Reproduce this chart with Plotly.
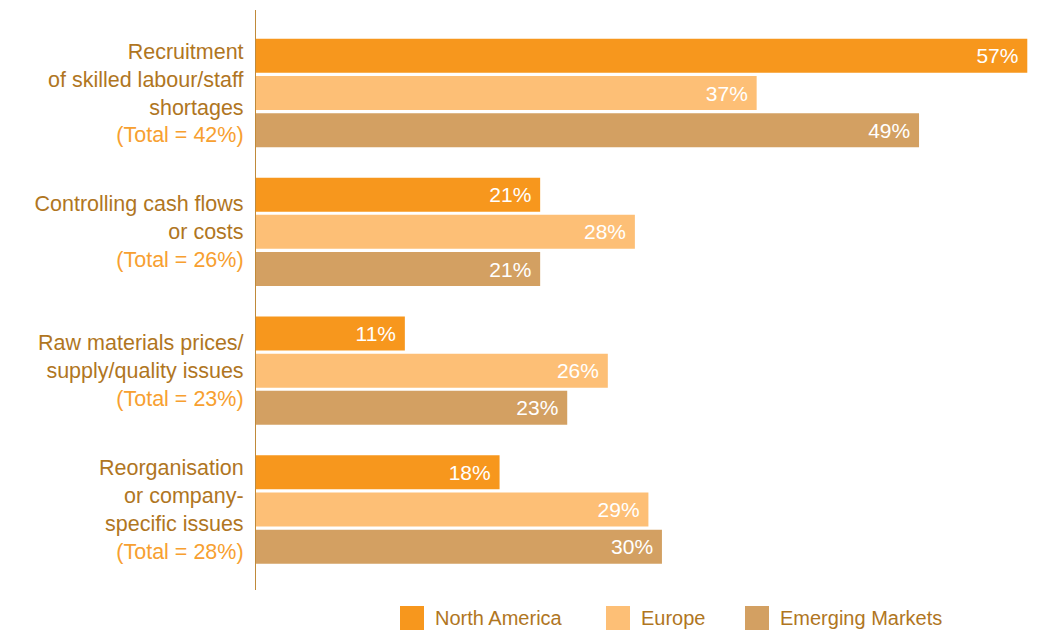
import plotly.graph_objects as go

# Categories (top to bottom) and their multi-line labels
categories = ["Recruitment", "Cash flows", "Raw materials", "Reorganisation"]
label_lines = [
    ["Recruitment", "of skilled labour/staff", "shortages"],
    ["Controlling cash flows", "or costs"],
    ["Raw materials prices/", "supply/quality issues"],
    ["Reorganisation", "or company-", "specific issues"],
]
totals = [42, 26, 23, 28]

# Series values (%)
series_names = ["North America", "Europe", "Emerging Markets"]
north_america = [57, 21, 11, 18]
europe = [37, 28, 26, 29]
emerging_markets = [49, 21, 23, 30]
series_values = [north_america, europe, emerging_markets]
series_colors = ["#F7971D", "#FDBF76", "#D3A062"]

TEXT_DARK = "#B0761F"
TEXT_TOTAL = "#F7A030"
FONT = "Liberation Sans, Arial, sans-serif"

W, H = 1040, 632
M_L, M_R, M_T, M_B = 256, 10, 10, 42

fig = go.Figure()
for name, vals, color in zip(series_names, series_values, series_colors):
    fig.add_trace(go.Bar(
        name=name,
        y=categories,
        x=vals,
        orientation="h",
        marker=dict(color=color, line=dict(width=0)),
        text=[f"{v}%\u00a0" for v in vals],
        textposition="inside",
        insidetextanchor="end",
        textangle=0,
        constraintext="none",
        insidetextfont=dict(color="white", size=21, family=FONT),
        showlegend=False,
        hoverinfo="skip",
    ))

ticktext = [
    "<br>".join(lines) + f"<br><span style='color:{TEXT_TOTAL}'>(Total = {t}%)</span>"
    for lines, t in zip(label_lines, totals)
]

fig.update_layout(
    width=W, height=H,
    margin=dict(l=M_L, r=M_R, t=M_T, b=M_B, pad=0),
    paper_bgcolor="white", plot_bgcolor="white",
    barmode="group",
    bargap=0.196,
    bargroupgap=0.086,
    showlegend=False,
    font=dict(family=FONT, color=TEXT_DARK),
    xaxis=dict(range=[0, 57.2], visible=False, showgrid=False, zeroline=False, fixedrange=True),
    yaxis=dict(
        type="category",
        range=[3.58, -0.598],
        tickmode="array",
        tickvals=categories,
        ticktext=ticktext,
        tickfont=dict(size=21.5, color=TEXT_DARK, family=FONT),
        showline=True, linecolor="#C08A3A", linewidth=1.2,
        ticks="", ticklabelstandoff=7,
        showgrid=False, zeroline=False,
    ),
)

# Legend drawn as colour squares with labels below the plot
plot_w = W - M_L - M_R
plot_h = H - M_T - M_B


def px_x(x):
    return (x - M_L) / plot_w


def px_y(y):
    return (H - M_B - y) / plot_h


legend_x = [400, 606, 745]
sq = 24
sq_top = 606
for name, color, lx in zip(series_names, series_colors, legend_x):
    fig.add_shape(
        type="rect", xref="paper", yref="paper",
        x0=px_x(lx), x1=px_x(lx + sq), y0=px_y(sq_top + sq), y1=px_y(sq_top),
        fillcolor=color, line=dict(width=0),
    )
    fig.add_annotation(
        xref="paper", yref="paper",
        x=px_x(lx + sq + 9), y=px_y(sq_top + sq / 2),
        xanchor="left", yanchor="middle",
        text=name, showarrow=False,
        font=dict(size=20, color=TEXT_DARK, family=FONT),
    )

fig.write_html("out.html")
